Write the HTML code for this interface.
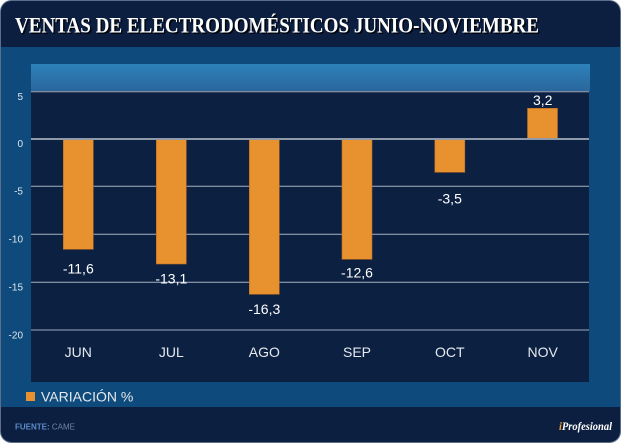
<!DOCTYPE html>
<html><head><meta charset="utf-8"><style>
html,body{margin:0;padding:0;background:#ffffff;}
svg{display:block;}
</style></head><body>
<svg width="621" height="443" viewBox="0 0 621 443" xmlns="http://www.w3.org/2000/svg" font-family="'Liberation Sans', Arial, sans-serif">
<defs>
<linearGradient id="band" x1="0" y1="0" x2="0" y2="1">
<stop offset="0" stop-color="#2d82ba"/>
<stop offset="1" stop-color="#2a679c"/>
</linearGradient>
<clipPath id="panel"><rect x="0.5" y="0.5" width="620" height="442" rx="11" ry="11"/></clipPath>
</defs>
<g clip-path="url(#panel)">
<rect x="0" y="0" width="621" height="443" fill="#0e4a7b"/>
<rect x="0" y="0" width="621" height="47" fill="#0c1f40"/>
<rect x="0" y="407" width="621" height="36" fill="#0c1f40"/>
</g>
<rect x="0.5" y="0.5" width="620" height="442" rx="11" ry="11" fill="none" stroke="#5b6e8c" stroke-width="1"/>

<!-- title -->
<text x="16.5" y="34.2" font-family="'Liberation Serif','Times New Roman',serif" font-weight="bold" font-size="22" fill="#000000" fill-opacity="0.85" textLength="524" lengthAdjust="spacingAndGlyphs">VENTAS DE ELECTRODOMÉSTICOS JUNIO-NOVIEMBRE</text>
<text x="15" y="32.7" font-family="'Liberation Serif','Times New Roman',serif" font-weight="bold" font-size="22" fill="#ffffff" textLength="524" lengthAdjust="spacingAndGlyphs">VENTAS DE ELECTRODOMÉSTICOS JUNIO-NOVIEMBRE</text>

<!-- plot -->
<rect x="31" y="64" width="559" height="27" fill="url(#band)"/>
<rect x="31" y="91" width="558" height="291" fill="#0c2142"/>

<!-- grid -->
<g stroke="#a7b0c0" stroke-width="1">
<line x1="31" x2="589" y1="91.7" y2="91.7"/>
<line x1="31" x2="589" y1="186.3" y2="186.3"/>
<line x1="31" x2="589" y1="234.3" y2="234.3"/>
<line x1="31" x2="589" y1="282.3" y2="282.3"/>
</g>
<line x1="31" x2="589" y1="330" y2="330" stroke="#6c7b96" stroke-width="1.5"/>

<!-- bars -->
<g fill="#e8922f" stroke="#b86a22" stroke-width="0.6">
<rect x="63.3" y="139" width="30" height="110.3"/>
<rect x="156.3" y="139" width="30" height="125"/>
<rect x="249.3" y="139" width="30" height="155.3"/>
<rect x="342" y="139" width="30" height="120.3"/>
<rect x="434.8" y="139" width="30" height="33.3"/>
<rect x="527.5" y="108.3" width="30" height="30.7"/>
</g>
<line x1="31" x2="589" y1="139" y2="139" stroke="#8f99aa" stroke-width="2"/>

<!-- value labels -->
<g fill="#ffffff" font-size="14" text-anchor="middle">
<text x="78.3" y="273.3">-11,6</text>
<text x="171.3" y="283.3">-13,1</text>
<text x="264.3" y="314">-16,3</text>
<text x="357" y="277.3">-12,6</text>
<text x="449.8" y="203.3">-3,5</text>
<text x="542.7" y="105">3,2</text>
</g>

<!-- y ticks -->
<g fill="#dfe4ec" font-size="10" text-anchor="end">
<text x="23" y="100">5</text>
<text x="23" y="147">0</text>
<text x="23" y="194.5">-5</text>
<text x="23" y="242.5">-10</text>
<text x="23" y="290.5">-15</text>
<text x="23" y="338.3">-20</text>
</g>

<!-- months -->
<g fill="#e6e9ef" font-size="14" text-anchor="middle">
<text x="78.3" y="357">JUN</text>
<text x="171.3" y="357">JUL</text>
<text x="264.3" y="357">AGO</text>
<text x="357" y="357">SEP</text>
<text x="449.8" y="357">OCT</text>
<text x="542.7" y="357">NOV</text>
</g>

<!-- legend -->
<rect x="26" y="392" width="9" height="9" fill="#e8922f"/>
<text x="41" y="401.7" font-size="14" fill="#e6e9ef">VARIACIÓN %</text>

<!-- footer -->
<text x="15" y="429.5" font-size="8" font-weight="bold" fill="#5b8ccc">FUENTE: <tspan font-weight="normal" fill="#6f86a8">CAME</tspan></text>
<text x="559" y="430" font-family="'Liberation Serif','Times New Roman',serif" font-style="italic" font-weight="bold" font-size="11.5" fill="#ffffff" textLength="53" lengthAdjust="spacingAndGlyphs"><tspan fill="#f0a030">i</tspan>Profesional</text>
</svg>
</body></html>
